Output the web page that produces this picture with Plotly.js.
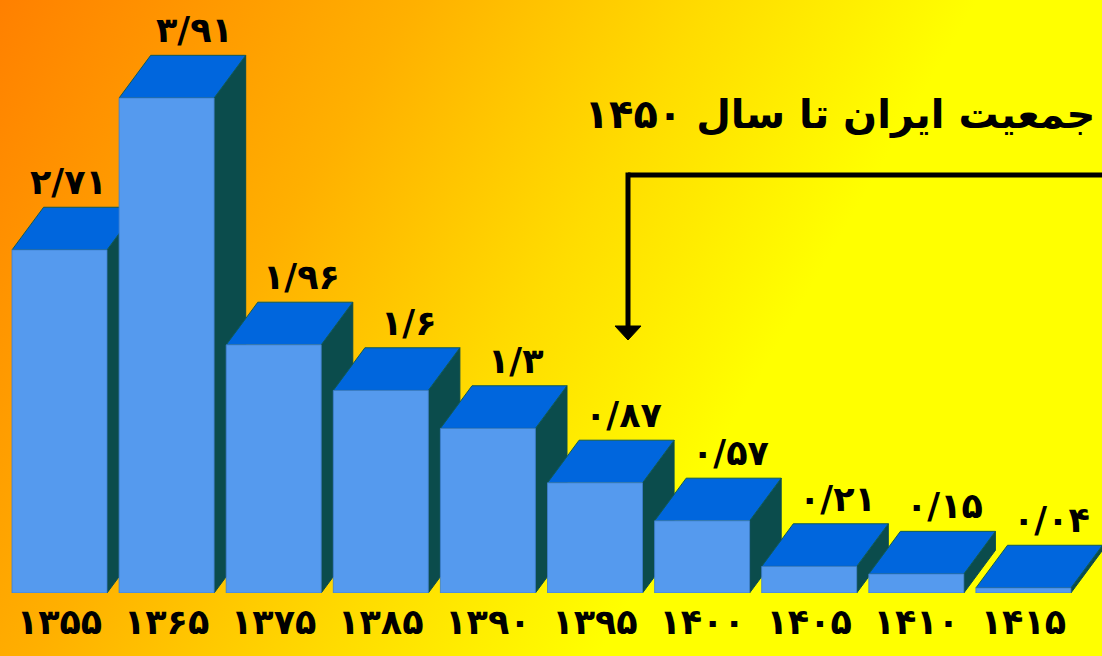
<!DOCTYPE html>
<html>
<head>
<meta charset="utf-8">
<script src="https://cdn.plot.ly/plotly-3.0.1.min.js"></script>
<style>
  html, body { margin: 0; padding: 0; }
  body {
    width: 1102px; height: 656px; overflow: hidden;
    background: linear-gradient(120deg, #FF8000 0%, #FFB000 28%, #FFDC00 48%, #FFFF00 66%, #FFFF00 100%);
  }
  #chart { width: 1102px; height: 656px; }
</style>
</head>
<body>
<div id="chart"></div>
<script>
// ---- data ----
const years = [1355, 1365, 1375, 1385, 1390, 1395, 1400, 1405, 1410, 1415];
const values = [2.71, 3.91, 1.96, 1.6, 1.3, 0.87, 0.57, 0.21, 0.15, 0.04];
const titleText = 'جمعیت ایران تا سال ۱۴۵۰';

// ---- helpers ----
const faDigits = ['۰','۱','۲','۳','۴','۵','۶','۷','۸','۹'];
function toFa(s) {
  return String(s).replace(/[0-9]/g, d => faDigits[+d]).replace('.', '/');
}

const idx = years.map((_, i) => i);
const yearLabels = years.map(toFa);
const valueLabels = values.map(toFa);

// ---- style ----
const W = 0.887;      // front-face width (category units)
const DX = 0.295;     // depth offset in x (category units)
const DY = 0.337;     // depth offset in y (value units)
const FRONT = '#559AEE';
const TOP = '#0066DD';
const SIDE = '#0B4C4C';
const EDGE = '#0E5A5A';
const FONT = 'DejaVu Sans, Noto Sans, sans-serif';

const shapes = [];
idx.forEach(i => {
  const v = values[i];
  const xl = i - W / 2, xr = i + W / 2;
  shapes.push({
    type: 'path', xref: 'x', yref: 'y', layer: 'below',
    path: `M ${xr},0 L ${xr + DX},${DY} L ${xr + DX},${v + DY} L ${xr},${v} Z`,
    fillcolor: SIDE, line: { color: SIDE, width: 1 }
  });
  shapes.push({
    type: 'path', xref: 'x', yref: 'y', layer: 'below',
    path: `M ${xl},${v} L ${xl + DX},${v + DY} L ${xr + DX},${v + DY} L ${xr},${v} Z`,
    fillcolor: TOP, line: { color: EDGE, width: 1 }
  });
});

// arrow (paper coordinates of plot area)
const AX = 628 / 1102;
const yTop = (593 - 175) / 593;
const yEnd = (593 - 326) / 593;
const yTip = (593 - 340) / 593;
shapes.push({ type: 'line', xref: 'paper', yref: 'paper', x0: AX, y0: yTop, x1: 1.0, y1: yTop,
  line: { color: '#000', width: 5 }, layer: 'above' });
shapes.push({ type: 'line', xref: 'paper', yref: 'paper', x0: AX, y0: yTop + 2.5 / 593, x1: AX, y1: yEnd,
  line: { color: '#000', width: 5 }, layer: 'above' });
shapes.push({ type: 'path', xref: 'paper', yref: 'paper', layer: 'above',
  path: `M ${(615) / 1102},${yEnd} L ${(641) / 1102},${yEnd} L ${AX},${yTip} Z`,
  fillcolor: '#000', line: { color: '#000', width: 1 } });

// value labels above the top faces; nudge left when the next bar is taller
const annotations = idx.map(i => ({
  x: i, y: values[i] + DY, xref: 'x', yref: 'y',
  text: valueLabels[i], showarrow: false,
  xshift: (i + 1 < values.length && values[i + 1] > values[i]) ? 9 : 28,
  yshift: 25, yanchor: 'middle', xanchor: 'center',
  font: { family: FONT, size: 35, color: '#000', weight: 'bold' }
}));

const trace = {
  type: 'bar',
  x: idx, y: values, width: W,
  marker: { color: FRONT, line: { color: '#3f7fcf', width: 0.8 } },
  hoverinfo: 'skip'
};

const pxPerUnit = (593 - 98) / 3.91;
const layout = {
  width: 1102, height: 656,
  margin: { l: 0, r: 0, t: 0, b: 63, pad: 0 },
  paper_bgcolor: 'rgba(0,0,0,0)',
  plot_bgcolor: 'rgba(0,0,0,0)',
  showlegend: false,
  title: {
    text: titleText, x: 0.994, xanchor: 'right', xref: 'paper',
    y: 1 - 114 / 656, yanchor: 'middle',
    font: { family: FONT, size: 40, color: '#000', weight: 'bold' }
  },
  xaxis: {
    range: [-59.5 / 107.1, (1102 - 59.5) / 107.1],
    tickvals: idx, ticktext: yearLabels,
    showgrid: false, zeroline: false, showline: false, ticks: '',
    tickfont: { family: FONT, size: 35, color: '#000', weight: 'bold' },
    ticklabelstandoff: 5,
    fixedrange: true
  },
  yaxis: {
    range: [0, 593 / pxPerUnit],
    visible: false, showgrid: false, zeroline: false,
    fixedrange: true
  },
  shapes: shapes,
  annotations: annotations
};

Plotly.newPlot('chart', [trace], layout, { displayModeBar: false, staticPlot: true });
</script>
</body>
</html>
